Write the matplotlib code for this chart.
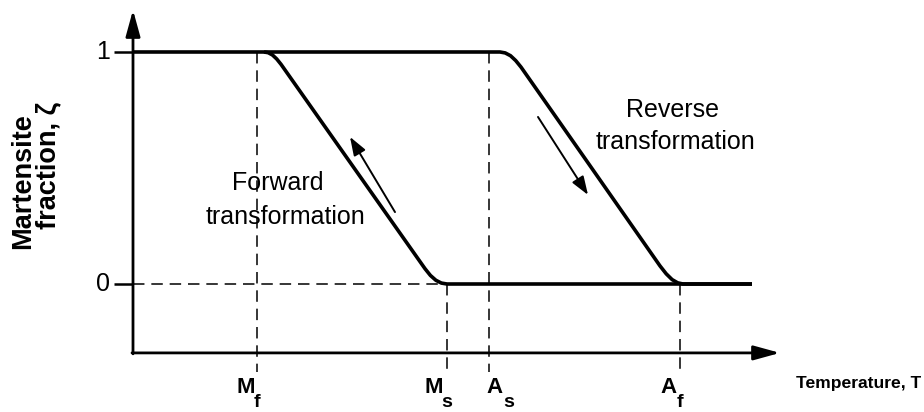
import matplotlib
matplotlib.use("Agg")
import matplotlib.pyplot as plt

plt.rcParams['font.family'] = ['Liberation Sans', 'DejaVu Sans']

# Characteristic temperatures (arbitrary units)
T_Mf, T_Ms, T_As, T_Af = 12.3, 31.3, 35.5, 54.6
T_end = 61.8          # end of the drawn curves
T_axis_end = 64.6     # tip of the temperature axis

# Forward transformation (cooling): austenite -> martensite
fwd_T = [31.30, 30.74, 30.19, 29.64, 29.10, 21.60, 14.70, 14.27, 13.85, 13.42, 13.00]
fwd_xi = [0.0, 0.004, 0.016, 0.037, 0.066, 0.525, 0.947, 0.970, 0.987, 0.997, 1.0]

# Reverse transformation (heating): martensite -> austenite
rev_T = [36.60, 37.12, 37.65, 38.17, 38.70, 45.60, 52.60, 53.22, 53.81, 54.37, 54.90]
rev_xi = [1.0, 0.996, 0.984, 0.963, 0.935, 0.510, 0.078, 0.044, 0.019, 0.005, 0.0]

tick_T = [T_Mf, T_Ms, T_As, T_Af]
tick_main = ['M', 'M', 'A', 'A']
tick_sub = ['f', 's', 's', 'f']

fig = plt.figure(figsize=(9.24, 4.12), dpi=100)
ax = fig.add_axes([0, 0, 1, 1])
ax.set_xlim(-13.4, 79.0)
ax.set_ylim(-0.5517, 1.2241)
ax.axis('off')

y_xaxis = -0.297
y_top = 1.181
x_yaxis = -0.1

axis_arrow = dict(arrowstyle='-|>,head_length=0.8,head_width=0.22', lw=2.0,
                  color='black', mutation_scale=20, shrinkA=0, shrinkB=0)
ax.annotate('', xy=(T_axis_end, y_xaxis), xytext=(x_yaxis - 0.1, y_xaxis),
            arrowprops=axis_arrow)
ax.annotate('', xy=(x_yaxis, y_top), xytext=(x_yaxis, y_xaxis - 0.004),
            arrowprops=axis_arrow)

# y ticks
for yv, lab in [(1.0, '1'), (0.0, '0')]:
    ax.plot([-2.0, x_yaxis], [yv, yv], color='black', lw=1.8, solid_capstyle='butt')
    ax.text(-2.4, yv, lab, ha='right', va='center', fontsize=18)

dash = (0, (7.5, 4.5))
ax.plot([x_yaxis, T_Ms], [0, 0], color='black', lw=1.1, linestyle=dash)
y_dash_bottom = -0.379
ax.plot([T_Mf, T_Mf], [1.0, y_dash_bottom], color='black', lw=1.1, linestyle=dash)
ax.plot([T_As, T_As], [1.0, y_dash_bottom], color='black', lw=1.1, linestyle=dash)
ax.plot([T_Ms, T_Ms], [0.0, y_dash_bottom], color='black', lw=1.1, linestyle=dash)
ax.plot([T_Af, T_Af], [0.0, y_dash_bottom], color='black', lw=1.1, linestyle=dash)

# curves
ax.plot([x_yaxis] + rev_T + [T_end], [1.0] + rev_xi + [0.0], color='black', lw=2.6,
        solid_joinstyle='round', solid_capstyle='butt')
ax.plot([T_end] + fwd_T, [0.0] + fwd_xi, color='black', lw=2.6,
        solid_joinstyle='round', solid_capstyle='butt')

# direction arrows
dir_arrow = dict(arrowstyle='-|>,head_length=0.7,head_width=0.25', lw=1.4,
                 color='black', mutation_scale=16, shrinkA=0, shrinkB=0)
ax.annotate('', xy=(21.6, 0.634), xytext=(26.1, 0.310), arrowprops=dir_arrow)
ax.annotate('', xy=(45.4, 0.384), xytext=(40.4, 0.720), arrowprops=dir_arrow)

# annotations
ax.text(14.4, 0.435, 'Forward', ha='center', va='center', fontsize=18)
ax.text(15.1, 0.289, 'transformation', ha='center', va='center', fontsize=18)
ax.text(53.9, 0.750, 'Reverse', ha='center', va='center', fontsize=18)
ax.text(54.2, 0.612, 'transformation', ha='center', va='center', fontsize=18)

# temperature tick labels (main letter + lowered subscript)
# main letter left edge offsets (As label sits right of its line)
main_left = [-2.0, -2.3, -0.3, -2.0]
for tv, m, s, dx in zip(tick_T, tick_main, tick_sub, main_left):
    ax.text(tv + dx, -0.448, m, ha='left', va='center', fontsize=16, fontweight='bold')
    ax.text(tv + dx + 1.7, -0.512, s, ha='left', va='center', fontsize=14,
            fontweight='bold')

# axis titles
ax.text(79.0 - 0.3, -0.427, 'Temperature, T', ha='right', va='center', fontsize=12.6,
        fontweight='bold')
ax.text(-11.1, 0.444, 'Martensite', ha='center', va='center', fontsize=19.5,
        fontweight='bold', rotation=90)
ax.text(-8.6, 0.513, 'fraction, ζ', ha='center', va='center', fontsize=19.5,
        fontweight='bold', rotation=90)

fig.savefig('out.png', dpi=100)
